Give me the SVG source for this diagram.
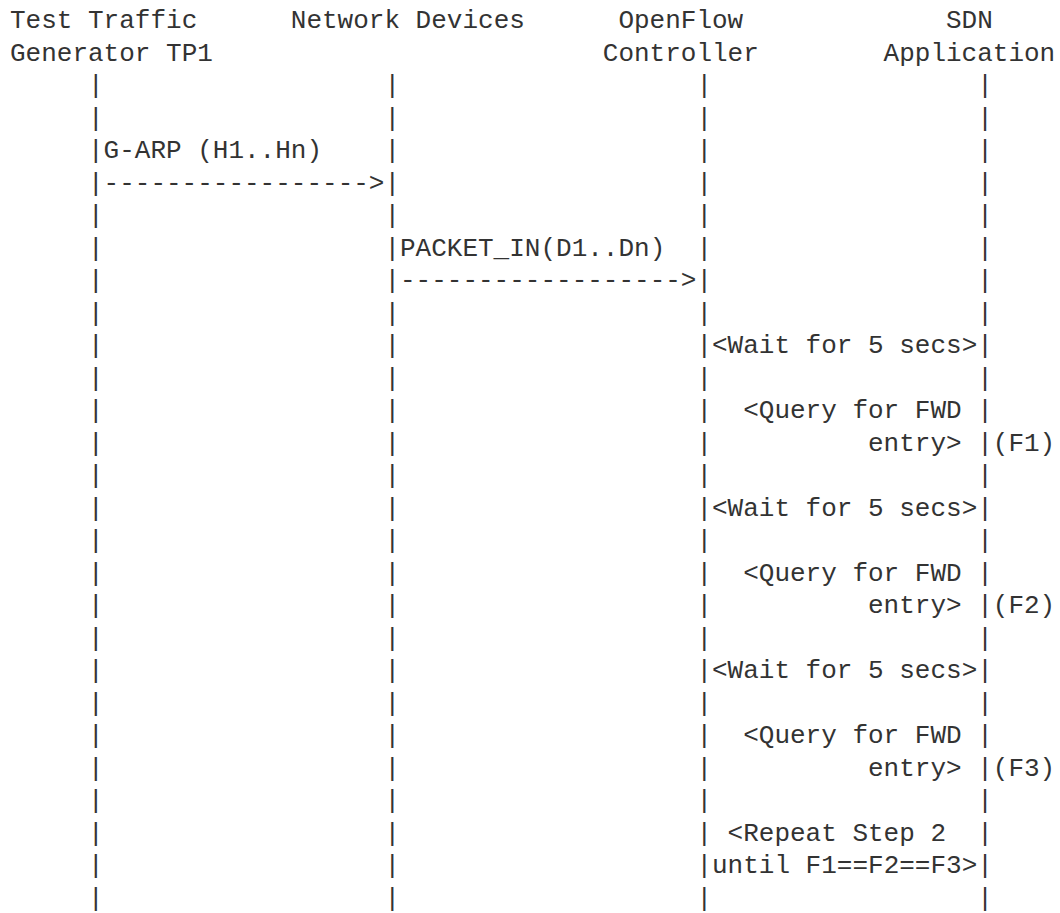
<svg xmlns="http://www.w3.org/2000/svg" width="1060" height="913" viewBox="0 0 1060 913">
<style>
.t{font-family:"Liberation Mono","DejaVu Sans Mono",monospace;font-size:26px;fill:#333}
</style>
<rect width="1060" height="913" fill="#fff"/>
<g id="tp1">
<text class="t" x="10" y="28">Test Traffic</text>
<text class="t" x="10" y="60.5">Generator TP1</text>
<text class="t"><tspan x="88" y="93">|</tspan><tspan x="88" y="125.5">|</tspan><tspan x="88" y="158">|</tspan><tspan x="88" y="190.5">|</tspan><tspan x="88" y="223">|</tspan><tspan x="88" y="255.5">|</tspan><tspan x="88" y="288">|</tspan><tspan x="88" y="320.5">|</tspan><tspan x="88" y="353">|</tspan><tspan x="88" y="385.5">|</tspan><tspan x="88" y="418">|</tspan><tspan x="88" y="450.5">|</tspan><tspan x="88" y="483">|</tspan><tspan x="88" y="515.5">|</tspan><tspan x="88" y="548">|</tspan><tspan x="88" y="580.5">|</tspan><tspan x="88" y="613">|</tspan><tspan x="88" y="645.5">|</tspan><tspan x="88" y="678">|</tspan><tspan x="88" y="710.5">|</tspan><tspan x="88" y="743">|</tspan><tspan x="88" y="775.5">|</tspan><tspan x="88" y="808">|</tspan><tspan x="88" y="840.5">|</tspan><tspan x="88" y="873">|</tspan><tspan x="88" y="905.5">|</tspan></text>
</g>
<g id="network-devices">
<text class="t" x="290.8" y="28">Network Devices</text>
<text class="t"><tspan x="384.4" y="93">|</tspan><tspan x="384.4" y="125.5">|</tspan><tspan x="384.4" y="158">|</tspan><tspan x="384.4" y="190.5">|</tspan><tspan x="384.4" y="223">|</tspan><tspan x="384.4" y="255.5">|</tspan><tspan x="384.4" y="288">|</tspan><tspan x="384.4" y="320.5">|</tspan><tspan x="384.4" y="353">|</tspan><tspan x="384.4" y="385.5">|</tspan><tspan x="384.4" y="418">|</tspan><tspan x="384.4" y="450.5">|</tspan><tspan x="384.4" y="483">|</tspan><tspan x="384.4" y="515.5">|</tspan><tspan x="384.4" y="548">|</tspan><tspan x="384.4" y="580.5">|</tspan><tspan x="384.4" y="613">|</tspan><tspan x="384.4" y="645.5">|</tspan><tspan x="384.4" y="678">|</tspan><tspan x="384.4" y="710.5">|</tspan><tspan x="384.4" y="743">|</tspan><tspan x="384.4" y="775.5">|</tspan><tspan x="384.4" y="808">|</tspan><tspan x="384.4" y="840.5">|</tspan><tspan x="384.4" y="873">|</tspan><tspan x="384.4" y="905.5">|</tspan></text>
</g>
<g id="openflow-controller">
<text class="t" x="618.4" y="28">OpenFlow</text>
<text class="t" x="602.8" y="60.5">Controller</text>
<text class="t"><tspan x="696.4" y="93">|</tspan><tspan x="696.4" y="125.5">|</tspan><tspan x="696.4" y="158">|</tspan><tspan x="696.4" y="190.5">|</tspan><tspan x="696.4" y="223">|</tspan><tspan x="696.4" y="255.5">|</tspan><tspan x="696.4" y="288">|</tspan><tspan x="696.4" y="320.5">|</tspan><tspan x="696.4" y="353">|</tspan><tspan x="696.4" y="385.5">|</tspan><tspan x="696.4" y="418">|</tspan><tspan x="696.4" y="450.5">|</tspan><tspan x="696.4" y="483">|</tspan><tspan x="696.4" y="515.5">|</tspan><tspan x="696.4" y="548">|</tspan><tspan x="696.4" y="580.5">|</tspan><tspan x="696.4" y="613">|</tspan><tspan x="696.4" y="645.5">|</tspan><tspan x="696.4" y="678">|</tspan><tspan x="696.4" y="710.5">|</tspan><tspan x="696.4" y="743">|</tspan><tspan x="696.4" y="775.5">|</tspan><tspan x="696.4" y="808">|</tspan><tspan x="696.4" y="840.5">|</tspan><tspan x="696.4" y="873">|</tspan><tspan x="696.4" y="905.5">|</tspan></text>
</g>
<g id="sdn-application">
<text class="t" x="946" y="28">SDN</text>
<text class="t" x="883.6" y="60.5">Application</text>
<text class="t"><tspan x="977.2" y="93">|</tspan><tspan x="977.2" y="125.5">|</tspan><tspan x="977.2" y="158">|</tspan><tspan x="977.2" y="190.5">|</tspan><tspan x="977.2" y="223">|</tspan><tspan x="977.2" y="255.5">|</tspan><tspan x="977.2" y="288">|</tspan><tspan x="977.2" y="320.5">|</tspan><tspan x="977.2" y="353">|</tspan><tspan x="977.2" y="385.5">|</tspan><tspan x="977.2" y="418">|</tspan><tspan x="977.2" y="450.5">|</tspan><tspan x="977.2" y="483">|</tspan><tspan x="977.2" y="515.5">|</tspan><tspan x="977.2" y="548">|</tspan><tspan x="977.2" y="580.5">|</tspan><tspan x="977.2" y="613">|</tspan><tspan x="977.2" y="645.5">|</tspan><tspan x="977.2" y="678">|</tspan><tspan x="977.2" y="710.5">|</tspan><tspan x="977.2" y="743">|</tspan><tspan x="977.2" y="775.5">|</tspan><tspan x="977.2" y="808">|</tspan><tspan x="977.2" y="840.5">|</tspan><tspan x="977.2" y="873">|</tspan><tspan x="977.2" y="905.5">|</tspan></text>
<text class="t" x="992.8" y="450.5">(F1)</text>
<text class="t" x="992.8" y="613">(F2)</text>
<text class="t" x="992.8" y="775.5">(F3)</text>
</g>
<g id="connectors">
<text class="t" x="103.6" y="158">G-ARP (H1..Hn)</text>
<text class="t" x="103.6" y="190.5">-----------------&gt;</text>
<text class="t" x="400" y="255.5">PACKET_IN(D1..Dn)</text>
<text class="t" x="400" y="288">------------------&gt;</text>
</g>
<g id="notes">
<text class="t" x="712" y="353">&lt;Wait for 5 secs&gt;</text>
<text class="t" x="743.2" y="418">&lt;Query for FWD</text>
<text class="t" x="868" y="450.5">entry&gt;</text>
<text class="t" x="712" y="515.5">&lt;Wait for 5 secs&gt;</text>
<text class="t" x="743.2" y="580.5">&lt;Query for FWD</text>
<text class="t" x="868" y="613">entry&gt;</text>
<text class="t" x="712" y="678">&lt;Wait for 5 secs&gt;</text>
<text class="t" x="743.2" y="743">&lt;Query for FWD</text>
<text class="t" x="868" y="775.5">entry&gt;</text>
<text class="t" x="727.6" y="840.5">&lt;Repeat Step 2</text>
<text class="t" x="712" y="873">until F1==F2==F3&gt;</text>
</g>
</svg>
